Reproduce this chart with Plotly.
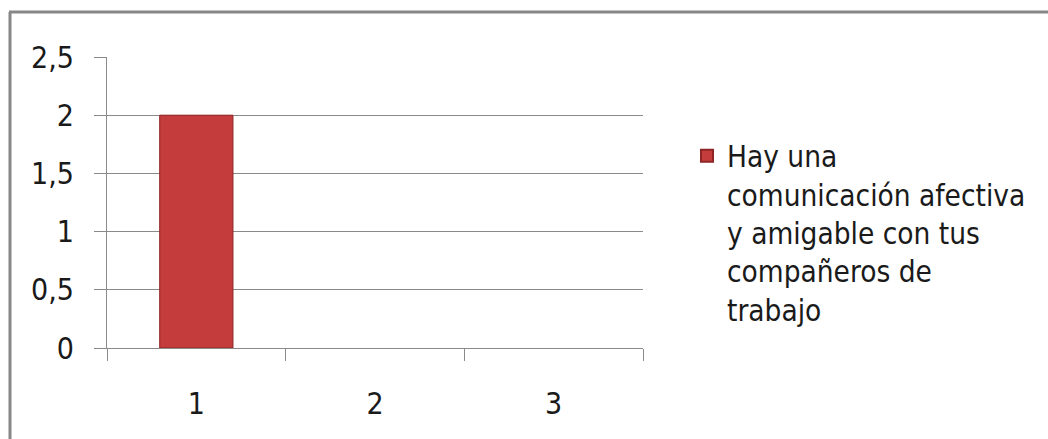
import plotly.graph_objects as go

# Chart data
categories = ["1", "2", "3"]
values = [2, None, None]
series_name = "Hay una<br>comunicación afectiva<br>y amigable con tus<br>compañeros de<br>trabajo"
y_ticks = [0, 0.5, 1, 1.5, 2, 2.5]

W, H = 1048, 439
L, R, T, B = 107, 1048 - 643, 57, 439 - 348
pw, ph = W - L - R, H - T - B

def px_x(px):
    return (px - L) / pw

def px_y(py):
    return (H - B - py) / ph

FONT = "DejaVu Sans Condensed, Roboto, sans-serif"
GRID = "#8a8a8a"

fig = go.Figure()
fig.add_trace(go.Bar(
    x=categories, y=values, name=series_name,
    width=0.41,
    marker=dict(color="#c43c3c", line=dict(color="#8e2424", width=1)),
    showlegend=True,
))

fig.update_layout(
    width=W, height=H,
    margin=dict(l=L, r=R, t=T, b=B),
    paper_bgcolor="white", plot_bgcolor="white",
    separators=", ",
    font=dict(family=FONT, size=30, color="#1a1a1a"),
    showlegend=True,
    legend=dict(
        x=px_x(687), y=px_y(130), xanchor="left", yanchor="top",
        valign="top", font=dict(size=29.5, family=FONT, color="#1a1a1a"),
        bgcolor="rgba(0,0,0,0)", itemsizing="constant",
    ),
    xaxis=dict(
        type="category", tickson="boundaries", ticks="outside", ticklen=12,
        tickcolor=GRID, showline=True, linecolor=GRID, linewidth=1,
        showgrid=False, tickfont=dict(size=30), ticklabelstandoff=29,
        range=[-0.5, 2.5],
    ),
    yaxis=dict(
        range=[0, 2.5], tickvals=y_ticks, ticks="outside", ticklen=12,
        tickcolor=GRID, showline=True, linecolor=GRID, linewidth=1,
        showgrid=True, gridcolor=GRID, gridwidth=1, zeroline=False,
        tickfont=dict(size=30), ticklabelstandoff=14,
    ),
    shapes=[
        dict(type="line", xref="paper", yref="paper",
             x0=px_x(10), x1=px_x(10), y0=px_y(12), y1=px_y(445),
             line=dict(color="#878787", width=3)),
        dict(type="line", xref="paper", yref="paper",
             x0=px_x(9), x1=px_x(1060), y0=px_y(12), y1=px_y(12),
             line=dict(color="#878787", width=3)),
    ],
)

fig.write_html("out.html")
